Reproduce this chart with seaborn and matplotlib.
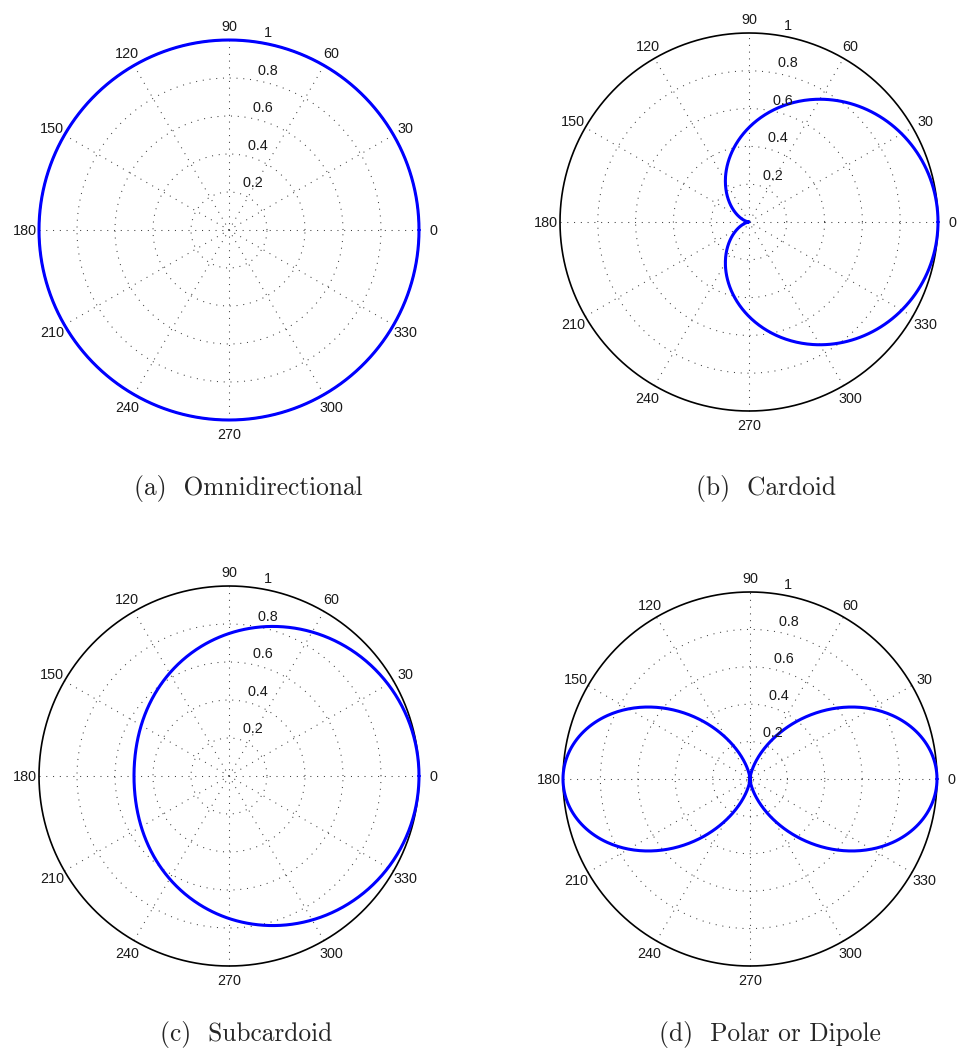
import numpy as np
import pandas as pd
import matplotlib
matplotlib.use('Agg')
import matplotlib.pyplot as plt
import seaborn as sns

# Panel captions
panel_letters = ['a', 'b', 'c', 'd']
panel_titles = ['Omnidirectional', 'Cardoid', 'Subcardoid', 'Polar or Dipole']

pattern_a = [0.0, 0.5, 0.25, 1.0]
pattern_p = [1, 1, 1, 2]

# Polar grid ticks (MATLAB style)
ring_ticks = [0.2, 0.4, 0.6, 0.8, 1.0]
ring_labels = ['0.2', '0.4', '0.6', '0.8', '1']
angle_ticks = [0, 30, 60, 90, 120, 150, 180, 210, 240, 270, 300, 330]
angle_labels = [str(a) for a in angle_ticks]

# Layout in pixels: circle centre, radius, caption position
W, H = 963, 1057
centers = [(229, 230), (749, 222), (229, 776), (750, 779)]
radii = [190, 189, 190, 187]
caption_pos = [(248, 489), (766, 489), (246, 1035), (770, 1035)]

sns.set_style('white')

fig = plt.figure(figsize=(W / 100, H / 100), dpi=100)

dots = (0, (1, 5.5))
grid_color = '0.25'
theta = np.linspace(0, 2 * np.pi, 721)

for i in range(4):
    cx, cy = centers[i]
    R = radii[i]
    m = 1.05
    ax = fig.add_axes([(cx - m * R) / W, (H - cy - m * R) / H, 2 * m * R / W, 2 * m * R / H])

    # spokes every 30 degrees, drawn as full diameters
    for deg in angle_ticks[:6]:
        th = np.radians(deg)
        ax.plot([-np.cos(th), np.cos(th)], [-np.sin(th), np.sin(th)],
                ls=dots, color=grid_color, lw=0.75)

    # inner dotted rings and solid outer ring
    for r in ring_ticks[:-1]:
        ax.plot(r * np.cos(theta), r * np.sin(theta), ls=dots, color=grid_color, lw=0.75)
    ax.plot(np.cos(theta), np.sin(theta), color='black', lw=1.2)

    # radial labels at 82 degrees
    c82, s82 = np.cos(np.radians(82)), np.sin(np.radians(82))
    for r, lab in zip(ring_ticks, ring_labels):
        ax.text((r + 0.01) * c82, (r + 0.01) * s82, '  ' + lab, ha='left', va='bottom',
                fontsize=10.4, family='Liberation Sans', color='0.1')

    # angle labels
    for deg, lab in zip(angle_ticks, angle_labels):
        th = np.radians(deg)
        ax.text(1.075 * np.cos(th), 1.075 * np.sin(th) - 0.006, lab, ha='center', va='center',
                fontsize=10.4, family='Liberation Sans', color='0.1')

    # directivity pattern
    rr = np.abs((1 - pattern_a[i]) + pattern_a[i] * np.cos(theta)) ** pattern_p[i]
    df = pd.DataFrame({'x': rr * np.cos(theta), 'y': rr * np.sin(theta)})
    sns.lineplot(data=df, x='x', y='y', sort=False, estimator=None,
                 color='#0000ff', lw=2.2, ax=ax)

    ax.set_xlim(-m, m)
    ax.set_ylim(-m, m)
    ax.axis('off')

    px, py = caption_pos[i]
    fig.text(px / W, 1 - py / H, '(' + panel_letters[i] + ')  ' + panel_titles[i],
             ha='center', va='center', family='cmr10', fontsize=18.3)

fig.savefig('out.png', dpi=100)
